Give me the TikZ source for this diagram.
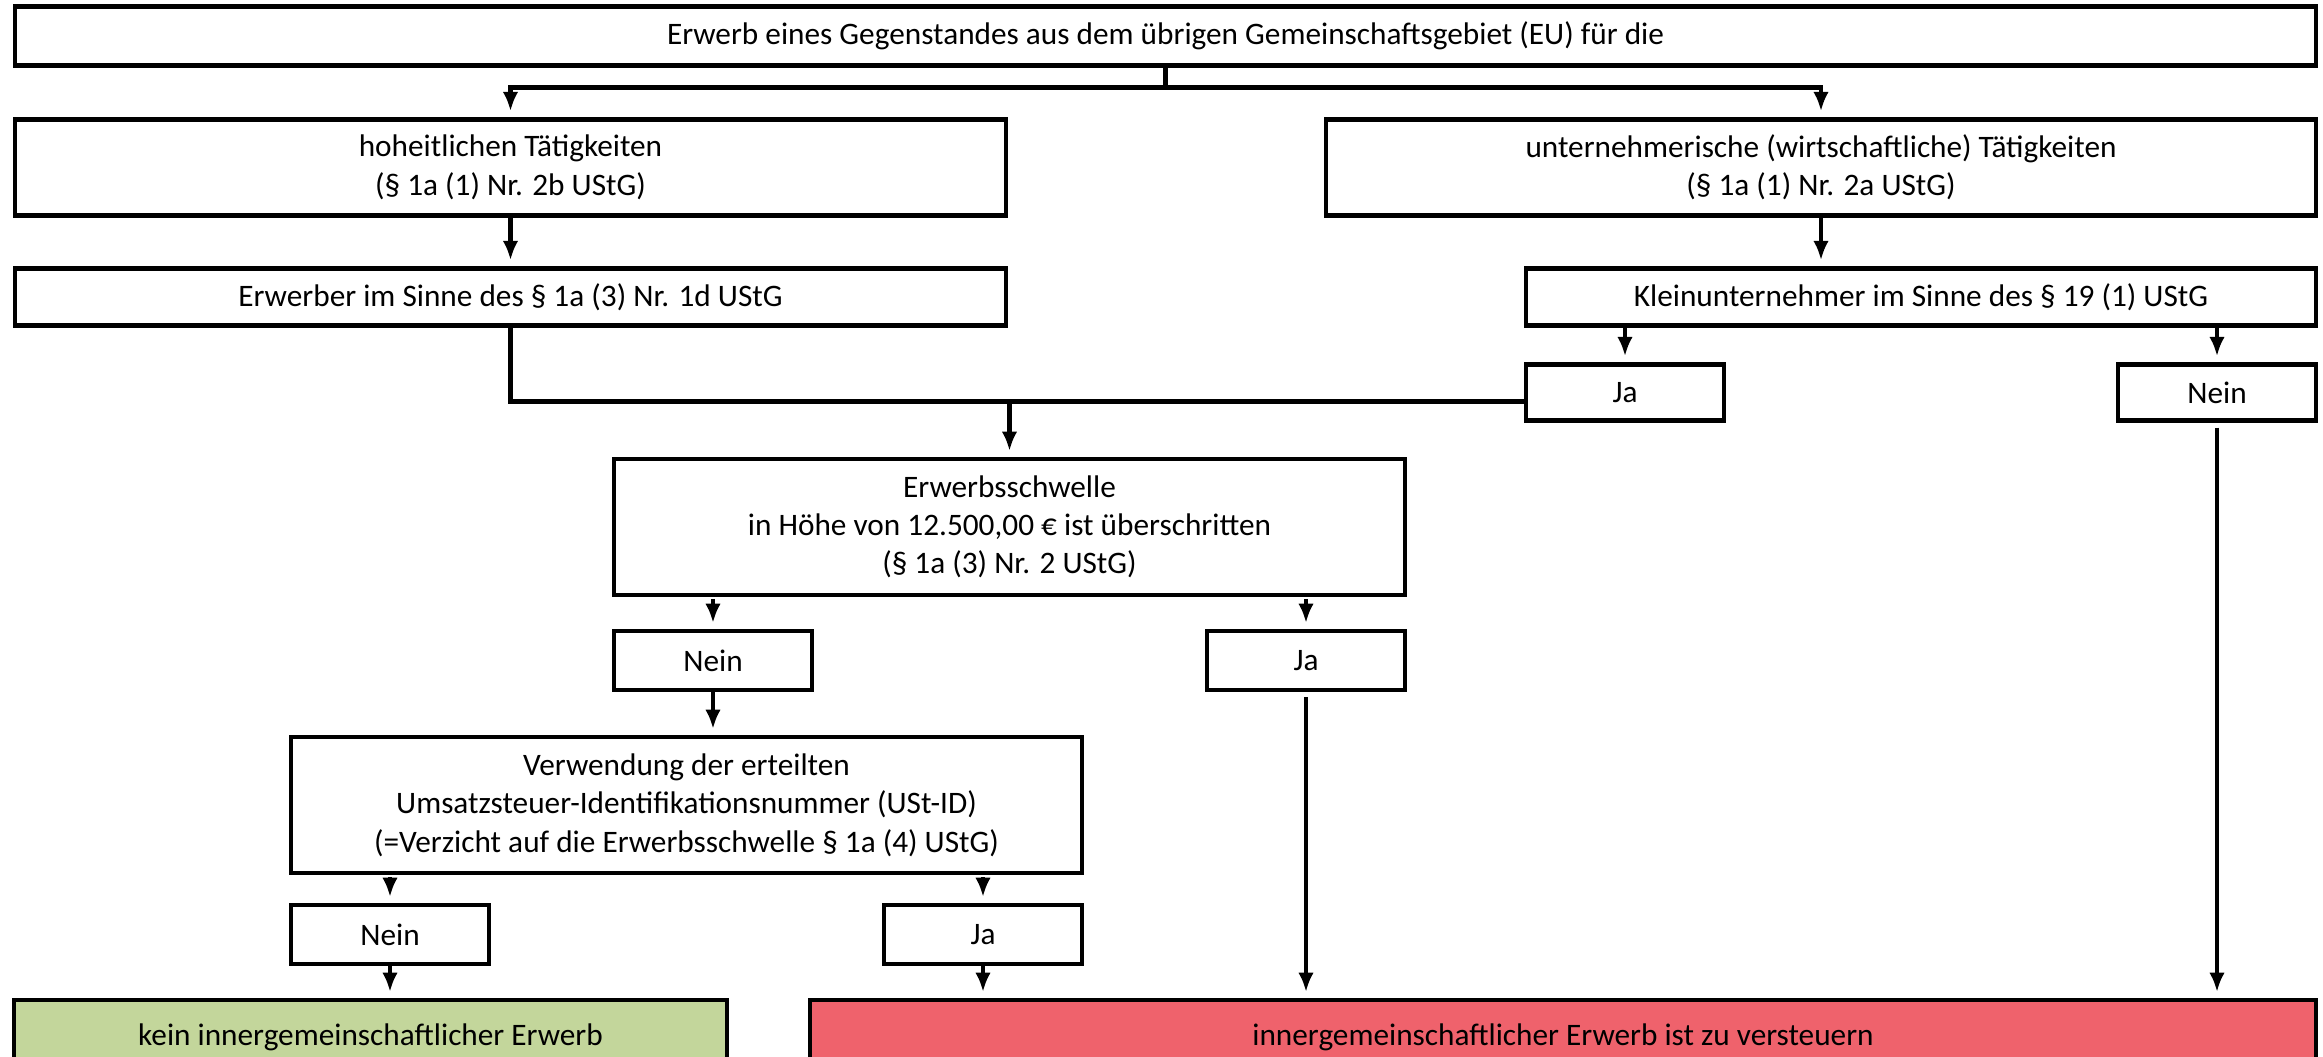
\documentclass[tikz,border=0pt]{standalone}
\usepackage{fontspec}
\setmainfont{Carlito}
\usepackage{xcolor}
\usetikzlibrary{arrows.meta,positioning}

\definecolor{keingreen}{RGB}{195,214,155}
\definecolor{steuerred}{RGB}{239,98,108}

\begin{document}
\begin{tikzpicture}[
    box/.style={rectangle, draw, line width=1.4pt, align=center, inner sep=0pt, outer sep=0pt, font=\fontsize{8.9}{10.9}\selectfont},
    answer/.style={box, minimum width=1.98cm, minimum height=0.58cm},
    line/.style={line width=1.3pt},
    arrow/.style={-{Latex[length=5.5pt,width=4.4pt]}, line width=1.3pt, shorten >=0.08cm}
]
\useasboundingbox (0,0) rectangle (23.23,-10.57);

% Nodes
\node[box, minimum width=23.01cm, minimum height=0.585cm] (top) at (11.655,-0.36) {Erwerb eines Gegenstandes aus dem übrigen Gemeinschaftsgebiet (EU) für die};
\node[box, minimum width=9.91cm, minimum height=0.96cm, below=0.54cm of top.south west, anchor=north west] (hoheit) {hoheitlichen Tätigkeiten\\(§ 1a (1) Nr. 2b UStG)};
\node[box, minimum width=9.90cm, minimum height=0.96cm, below=0.54cm of top.south east, anchor=north east] (untern) {unternehmerische (wirtschaftliche) Tätigkeiten\\(§ 1a (1) Nr. 2a UStG)};
\node[box, minimum width=9.91cm, minimum height=0.57cm, below=0.53cm of hoheit] (erwerber) {Erwerber im Sinne des § 1a (3) Nr. 1d UStG};
\node[box, minimum width=7.90cm, minimum height=0.57cm, below=0.53cm of untern.south east, anchor=north east] (klein) {Kleinunternehmer im Sinne des § 19 (1) UStG};
\node[answer, minimum height=0.565cm, below=0.39cm of klein.south west, anchor=north west] (ja1) {Ja};
\node[answer, minimum height=0.565cm, below=0.39cm of klein.south east, anchor=north east] (nein1) {Nein};

\node[box, minimum width=7.91cm, minimum height=1.36cm] (schwelle) at (10.095,-5.27) {Erwerbsschwelle\\in Höhe von 12.500,00 € ist überschritten\\(§ 1a (3) Nr. 2 UStG)};
\node[answer, minimum height=0.59cm, below=0.36cm of schwelle.south west, anchor=north west] (nein2) {Nein};
\node[answer, minimum height=0.59cm, below=0.36cm of schwelle.south east, anchor=north east] (ja2) {Ja};

\node[box, minimum width=7.91cm, minimum height=1.36cm] (verw) at (6.865,-8.05) {Verwendung der erteilten\\Umsatzsteuer-Identifikationsnummer (USt-ID)\\(=Verzicht auf die Erwerbsschwelle § 1a (4) UStG)};
\node[answer, minimum height=0.59cm, below=0.32cm of verw.south west, anchor=north west] (nein3) {Nein};
\node[answer, minimum height=0.59cm, below=0.32cm of verw.south east, anchor=north east] (ja3) {Ja};

\node[box, fill=keingreen, minimum width=7.13cm, minimum height=0.80cm, anchor=north west] (kein) at (0.14,-10.00) {\raisebox{0.1cm}{kein innergemeinschaftlicher Erwerb}};
\node[box, fill=steuerred, minimum width=15.06cm, minimum height=0.80cm, anchor=north east] (inner) at (23.16,-10.00) {\raisebox{0.1cm}{innergemeinschaftlicher Erwerb ist zu versteuern}};

% Edges
\coordinate[below=0.225cm of top.south] (split);
\draw[line] (top.south) -- (split);
\draw[arrow] (split) -| (hoheit.north);
\draw[arrow] (split) -| (untern.north);

\draw[arrow] (hoheit) -- (erwerber);
\draw[arrow] (untern.south) -- (untern.south |- klein.north);

\draw[arrow] (ja1.north |- klein.south) -- (ja1.north);
\draw[arrow] (nein1.north |- klein.south) -- (nein1.north);

\coordinate (join) at ([yshift=-0.09cm]ja1.west);
\draw[line] (erwerber.south) |- (join);
\draw[arrow] (schwelle.north |- join) -- (schwelle.north);

\draw[arrow, shorten <=0.04cm] (nein2.north |- schwelle.south) -- (nein2.north);
\draw[arrow, shorten <=0.04cm] (ja2.north |- schwelle.south) -- (ja2.north);

\draw[arrow] (nein2.south) -- (nein2.south |- verw.north);

\draw[arrow, shorten <=0.04cm] (nein3.north |- verw.south) -- (nein3.north);
\draw[arrow, shorten <=0.04cm] (ja3.north |- verw.south) -- (ja3.north);

\draw[arrow] (nein3.south) -- (nein3.south |- kein.north);
\draw[arrow] (ja3.south) -- (ja3.south |- inner.north);
\draw[arrow, shorten <=0.07cm] (ja2.south) -- (ja2.south |- inner.north);
\draw[arrow, shorten <=0.07cm] (nein1.south) -- (nein1.south |- inner.north);

\end{tikzpicture}
\end{document}
